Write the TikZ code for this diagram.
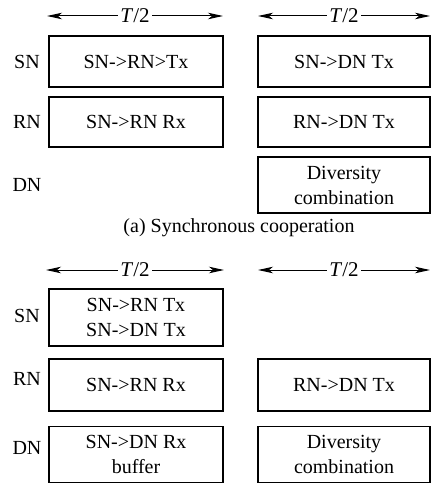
\documentclass[tikz,border=0pt]{standalone}
\usepackage{fontspec}
\setmainfont{Liberation Serif}
\usetikzlibrary{arrows.meta}
\begin{document}
\begin{tikzpicture}[x=1pt,y=-1pt,
  every node/.style={font=\fontsize{20}{25}\selectfont},
  slot/.style={draw, line width=1.8pt, minimum width=174pt, inner sep=0pt, align=center},
  slotr/.style={slot, minimum width=172pt},
  rowlabel/.style={inner sep=0pt, anchor=center},
  dimarrow/.style={line width=1pt, {Stealth[length=15pt,width=6.5pt,inset=4pt]}-{Stealth[length=15pt,width=6.5pt,inset=4pt]}},
  dimlabel/.style={fill=white, inner sep=2pt, font=\fontsize{21}{25}\selectfont}]
\useasboundingbox (0,0) rectangle (432,484);
% ---------- (a) ----------
\coordinate (aLL) at (47,16); \coordinate (aLR) at (223,16);
\coordinate (aRL) at (258,16); \coordinate (aRR) at (430,16);
\draw[dimarrow] (aLL) -- (aLR) node[midway, dimlabel] (aT1) {\textit{T}/2};
\draw[dimarrow] (aRL) -- (aRR) node[midway, dimlabel] (aT2) {\textit{T}/2};
\node[rowlabel] (aSN) at (27,62) {SN};
\node[rowlabel] (aRN) at (27,122) {RN};
\node[rowlabel] (aDN) at (27,185) {DN};
\node[slot, minimum height=51pt] (a11) at (136,61.5) {SN->RN>Tx};
\node[slotr, minimum height=51pt] (a12) at (344,61.5) {SN->DN Tx};
\node[slot, minimum height=50pt] (a21) at (136,122) {SN->RN Rx};
\node[slotr, minimum height=50pt] (a22) at (344,122) {RN->DN Tx};
\node[slotr, minimum height=56pt] (a32) at (344,185) {Diversity\\combination};
\node (capA) at (239,228) {(a) Synchronous cooperation};
% ---------- (b) ----------
\coordinate (bLL) at (46,270); \coordinate (bLR) at (224,270);
\coordinate (bRL) at (258,270); \coordinate (bRR) at (430,270);
\draw[dimarrow] (bLL) -- (bLR) node[midway, dimlabel] (bT1) {\textit{T}/2};
\draw[dimarrow] (bRL) -- (bRR) node[midway, dimlabel] (bT2) {\textit{T}/2};
\node[rowlabel] (bSN) at (27,316) {SN};
\node[rowlabel] (bRN) at (27,379) {RN};
\node[rowlabel] (bDN) at (27,448) {DN};
\node[slot, minimum height=57pt] (b11) at (136,317.5) {SN->RN Tx\\SN->DN Tx};
\node[slot, minimum height=52pt] (b21) at (136,385) {SN->RN Rx};
\node[slotr, minimum height=52pt] (b22) at (344,385) {RN->DN Tx};
\node[slot, minimum height=56pt] (b31) at (136,454.5) {SN->DN Rx\\buffer};
\node[slotr, minimum height=56pt] (b32) at (344,454.5) {Diversity\\combination};
\end{tikzpicture}
\end{document}
